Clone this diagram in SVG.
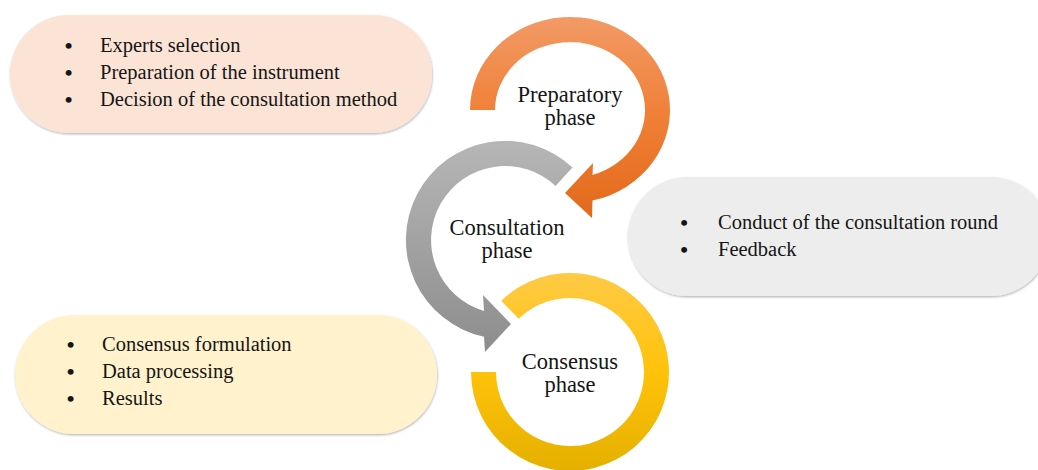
<svg xmlns="http://www.w3.org/2000/svg" width="1038" height="470" viewBox="0 0 1038 470">
  <style>
    .item { font-family: "Liberation Serif", "Times New Roman", serif; font-size: 20.5px; fill: #151515; }
    .bullet { font-family: "Liberation Serif", "Times New Roman", serif; font-size: 22px; font-weight: bold; fill: #151515; text-anchor: middle; }
    .phase { font-family: "Liberation Serif", "Times New Roman", serif; font-size: 22.5px; fill: #151515; text-anchor: middle; }
  </style>
  <defs>
    <linearGradient id="gradOrange" x1="0" y1="0" x2="0" y2="1">
      <stop offset="0" stop-color="#F29A66"/>
      <stop offset="0.5" stop-color="#F07F36"/>
      <stop offset="1" stop-color="#E2691A"/>
    </linearGradient>
    <linearGradient id="gradGray" x1="0" y1="0" x2="0" y2="1">
      <stop offset="0" stop-color="#B6B6B6"/>
      <stop offset="1" stop-color="#8D8D8D"/>
    </linearGradient>
    <linearGradient id="gradYellow" x1="0" y1="0" x2="0" y2="1">
      <stop offset="0" stop-color="#FFCA45"/>
      <stop offset="0.5" stop-color="#FFC20A"/>
      <stop offset="1" stop-color="#E5B000"/>
    </linearGradient>
    <filter id="soft" x="-5%" y="-10%" width="110%" height="125%">
      <feDropShadow dx="0.5" dy="1.2" stdDeviation="1" flood-color="#000" flood-opacity="0.3"/>
    </filter>
  </defs>

  <!-- task lists -->
  <g id="prep-tasks">
    <rect x="10" y="15" width="422" height="118" rx="59" fill="#FBE4D6" filter="url(#soft)"/>
    <text class="bullet" x="68.5" y="53">•</text>
    <text class="item" x="100" y="52">Experts selection</text>
    <text class="bullet" x="68.5" y="80">•</text>
    <text class="item" x="100" y="79">Preparation of the instrument</text>
    <text class="bullet" x="68.5" y="107">•</text>
    <text class="item" x="100" y="106">Decision of the consultation method</text>
  </g>

  <g id="consult-tasks">
    <rect x="628" y="177" width="422" height="119" rx="59.5" fill="#EDEDED" filter="url(#soft)"/>
    <text class="bullet" x="684" y="230">•</text>
    <text class="item" x="718" y="229">Conduct of the consultation round</text>
    <text class="bullet" x="684" y="257">•</text>
    <text class="item" x="718" y="256">Feedback</text>
  </g>

  <g id="consensus-tasks">
    <rect x="15" y="315" width="422" height="119" rx="59.5" fill="#FFF2CC" filter="url(#soft)"/>
    <text class="bullet" x="70.5" y="352">•</text>
    <text class="item" x="102" y="351">Consensus formulation</text>
    <text class="bullet" x="70.5" y="379">•</text>
    <text class="item" x="102" y="378">Data processing</text>
    <text class="bullet" x="70.5" y="406">•</text>
    <text class="item" x="102" y="405">Results</text>
  </g>

  <!-- circular phase arrows -->
  <g id="consensus-phase">
    <path d="M501.2,300.8 A99,99 0 1 1 471,372 L496,372 A74,74 0 1 0 518.6,318.8 Z" fill="url(#gradYellow)"/>
    <text class="phase" x="570" y="369">Consensus</text>
    <text class="phase" x="570" y="392">phase</text>
  </g>

  <g id="consultation-phase">
    <path d="M572.5,167.6 A99,99 0 1 0 484,336.7 L485,352 L511,324 L483,295 L484,311 A74,74 0 1 1 555.5,185.9 Z" fill="url(#gradGray)"/>
    <text class="phase" x="507" y="235">Consultation</text>
    <text class="phase" x="507" y="258">phase</text>
  </g>

  <g id="preparatory-phase">
    <path d="M470,110 A100,93 0 1 1 592.5,200.6 L592,218 L565,193 L593,163 L592.5,174.9 A75,68 0 1 0 495,110 Z" fill="url(#gradOrange)"/>
    <text class="phase" x="570" y="102">Preparatory</text>
    <text class="phase" x="570" y="125">phase</text>
  </g>
</svg>
